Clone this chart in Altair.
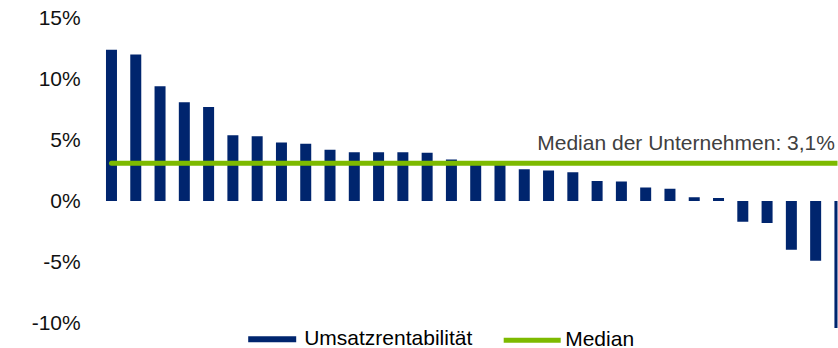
import altair as alt
import pandas as pd

# Umsatzrentabilität per company (in %), sorted descending
values = [12.4, 12.0, 9.4, 8.1, 7.7, 5.4, 5.3, 4.8, 4.7, 4.2, 4.0, 4.0, 4.0,
          3.95, 3.4, 3.1, 3.0, 2.6, 2.5, 2.35, 1.65, 1.6, 1.1, 1.0, 0.3, 0.25,
          -1.7, -1.8, -4.0, -4.9, -10.4]
median_value = 3.1
series_bar = "Umsatzrentabilität"
series_median = "Median"
annotation = "Median der Unternehmen: 3,1%"
y_ticks = [-10, -5, 0, 5, 10, 15]

NAVY = "#00256E"
GREEN = "#7DBA00"
FONT = "Liberation Sans"

bars_df = pd.DataFrame({
    "idx": list(range(1, len(values) + 1)),
    "value": values,
    "series": [series_bar] * len(values),
})
median_df = pd.DataFrame({
    "x": [1], "x2": [len(values)], "y": [median_value],
    "series": [series_median], "label": [annotation],
})

x_scale = alt.Scale(domain=[0, 30.9], nice=False, zero=False, padding=0)
y_scale = alt.Scale(domain=[-10.6, 15.3], nice=False, padding=0)

bars = alt.Chart(bars_df).mark_bar(size=11, clip=True).encode(
    x=alt.X("idx:Q", scale=x_scale, axis=None),
    y=alt.Y("value:Q", scale=y_scale,
            axis=alt.Axis(values=y_ticks, labelExpr="datum.value + '%'",
                          ticks=False, domain=False, grid=False, title=None,
                          labelFontSize=21, labelFont=FONT, labelColor="#111111",
                          labelPadding=7, labelBaseline="middle")),
    color=alt.Color("series:N",
                    scale=alt.Scale(domain=[series_bar], range=[NAVY]),
                    legend=alt.Legend(orient="none", legendX=161, legendY=301,
                                      title=None, padding=0, labelLimit=400,
                                      symbolType="M-1,-0.125H1V0.125H-1Z",
                                      symbolSize=2304, symbolStrokeWidth=0,
                                      labelFontSize=21, labelFont=FONT,
                                      labelColor="#000000", labelOffset=8)),
)

rule = alt.Chart(median_df).mark_rule(strokeWidth=5, strokeCap="round", clip=True).encode(
    x=alt.X("x:Q", scale=x_scale),
    x2="x2:Q",
    y=alt.Y("y:Q", scale=y_scale),
    color=alt.Color("series:N",
                    scale=alt.Scale(domain=[series_median], range=[GREEN]),
                    legend=alt.Legend(orient="none", legendX=414, legendY=295,
                                      title=None, padding=0, labelLimit=400,
                                      symbolType="stroke", symbolSize=3249,
                                      symbolStrokeWidth=5,
                                      labelFontSize=21, labelFont=FONT,
                                      labelColor="#000000", labelOffset=2)),
)

text = alt.Chart(median_df).mark_text(
    align="right", baseline="alphabetic", dx=-5, dy=-13,
    fontSize=21, font=FONT, color="#404040"
).encode(
    x=alt.X("x2:Q", scale=x_scale),
    y=alt.Y("y:Q", scale=y_scale),
    text="label:N",
)

chart = alt.layer(bars, rule, text).resolve_scale(color="independent").resolve_legend(
    color="independent"
).properties(
    width=750.3, height=316,
    autosize=alt.AutoSizeParams(type="none"),
    padding={"left": 87.2, "top": 14.34, "right": 0, "bottom": 17.66},
).configure(
    background="white", font=FONT, view=alt.ViewConfig(stroke=None)
)

chart.save("out.html", embed_options={"renderer": "svg", "actions": False})
